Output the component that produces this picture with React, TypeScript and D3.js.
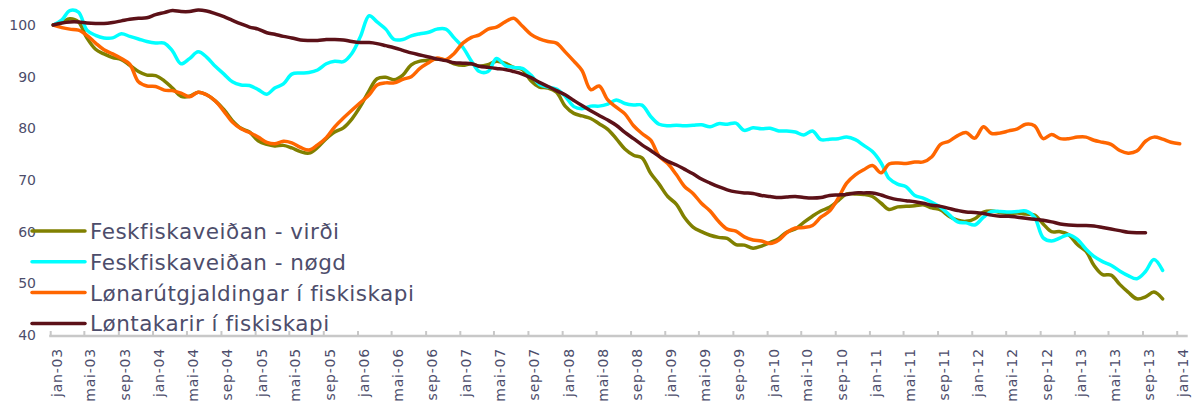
import * as d3 from "d3";

// monthly index series, jan-03 = 100
const virdi = [
  100, 100.5, 101.2, 100.6, 97.5, 95.3, 94.4, 93.7, 93.3, 92.2, 91, 90.3, 90.2, 89.2, 87.8, 86.2, 86.2, 87, 86.5, 85.3,
  83.6, 81.5, 80, 79.3, 77.6, 76.9, 76.6, 76.7, 76.2, 75.5, 75.2, 76.3, 78, 79.3, 80.1, 81.8, 84.3, 87.3, 89.6, 89.9,
  89.4, 90.3, 92.3, 93, 93.2, 93.4, 93.2, 92.5, 92.2, 92.5, 92, 92.3, 93, 92.6, 91.8, 91.4, 89.2, 88, 87.8, 87,
  84.3, 82.9, 82.4, 81.9, 80.9, 79.8, 78, 76, 74.8, 74.3, 71.3, 69.2, 66.8, 65.3, 62.8, 60.9, 60, 59.3, 58.9, 58.7,
  57.5, 57.4, 56.8, 57.2, 57.9, 58.7, 59.9, 60.5, 61.8, 63, 64, 64.7, 66, 67.3, 67.3, 67.2, 66.8, 65.5, 64.3, 64.8,
  64.9, 65, 65.2, 64.6, 64.2, 63, 62.2, 62, 62.5, 63.8, 64, 63.7, 63.5, 63.6, 63.4, 63.2, 61.5, 60, 60, 59.4,
  57.5, 56.2, 53.5, 51.7, 51.6, 49.8, 48.3, 47, 47.4, 48.3, 47,
];

const nogd = [
  100, 101, 102.8, 102.5, 99, 98, 97.5, 97.5, 98.3, 97.8, 97.3, 96.8, 96.5, 96.5, 95, 92.5, 93.5, 94.8, 93.8, 92,
  90.5, 89, 88.4, 88.3, 87.5, 86.6, 87.8, 88.6, 90.5, 90.7, 90.8, 91.3, 92.5, 93, 92.9, 94.5, 97.8, 101.8, 100.6, 99.2,
  97.2, 97.2, 97.9, 98.3, 98.6, 99.2, 99.2, 97.5, 95.7, 93, 91, 91, 93.5, 92.2, 91.8, 91.6, 90.3, 88.5, 88, 87.6,
  86.2, 84.2, 83.8, 84.3, 84.3, 84.7, 85.5, 84.8, 84.5, 84.5, 82.3, 80.8, 80.5, 80.6, 80.5, 80.6, 80.7, 80.3, 80.9, 80.8,
  81, 79.6, 80.1, 79.9, 80, 79.5, 79.5, 79.3, 78.7, 79.5, 77.8, 77.9, 78, 78.3, 77.8, 76.7, 75.5, 73.3, 70.3, 69.2,
  68.7, 67, 66.5, 65.7, 64.7, 63.3, 61.9, 61.7, 61.3, 62.8, 63.9, 63.9, 63.8, 63.9, 64, 62.8, 58.8, 58.2, 58.8, 59.4,
  58.5, 56.6, 55.2, 54.2, 53.5, 52.4, 51.5, 50.9, 52.3, 54.6, 52.5,
];

const lonarutgjaldingar = [
  100, 99.5, 99.2, 99, 98, 96.5, 95.2, 94.4, 93.5, 92.4, 89, 88.2, 88.1, 87.4, 87.3, 86.8, 86.1, 87, 86.5, 85.3,
  83.3, 81.2, 79.9, 79.2, 78.3, 77.3, 77, 77.5, 77.2, 76.3, 75.8, 76.8, 78.2, 80.3, 82, 83.5, 85, 86.5, 88.4, 88.8,
  88.8, 89.5, 90, 91.6, 92.7, 93.6, 93.3, 94.5, 96.5, 97.6, 98.1, 99.2, 99.6, 100.6, 101.3, 99.8, 98.2, 97.3, 96.8, 96.5,
  94.8, 93, 91.2, 87.5, 88.2, 85.5, 84.1, 82.8, 80.5, 79, 77.7, 74.6, 73.2, 71, 68.8, 67.4, 65.5, 64, 62, 60.5,
  60.1, 59, 58.4, 58.2, 57.7, 58.4, 59.8, 60.7, 60.8, 61.2, 62.8, 64, 66.5, 69.4, 71, 72, 72.8, 71.4, 73.1, 73.3,
  73.2, 73.5, 73.5, 74.5, 76.9, 77.5, 78.6, 79.2, 78.1, 80.3, 79, 79.1, 79.5, 79.9, 80.8, 80.5, 78, 78.8, 78, 78,
  78.3, 78.3, 77.7, 77.3, 76.9, 75.7, 75.2, 75.6, 77.5, 78.3, 77.9, 77.3, 77,
];

const lontakarir = [
  100, 100.4, 100.6, 100.6, 100.4, 100.3, 100.3, 100.5, 100.8, 101.1, 101.3, 101.4, 102, 102.4, 102.8, 102.6, 102.6, 102.9, 102.7, 102.2,
  101.6, 100.9, 100.2, 99.6, 99.2, 98.5, 98.2, 97.8, 97.5, 97.1, 97, 97, 97.2, 97.2, 97.1, 96.8, 96.6, 96.6, 96.4, 96,
  95.6, 95.1, 94.6, 94.2, 93.8, 93.4, 93.1, 92.7, 92.6, 92.5, 92, 91.8, 91.6, 91.4, 91, 90.5, 89.8, 88.9, 88.1, 87.3,
  86.5, 85.4, 84.4, 83.4, 82.5, 81.6, 80.6, 79.2, 78, 76.8, 75.7, 74.6, 73.6, 72.9, 72.1, 71.2, 70.2, 69.4, 68.7, 68.1,
  67.7, 67.5, 67.4, 67, 66.8, 66.6, 66.7, 66.8, 66.6, 66.5, 66.6, 67, 67.1, 67.2, 67.5, 67.5, 67.5, 67.1, 66.6, 66.2,
  66, 65.8, 65.5, 65.1, 64.9, 64.5, 64.1, 63.8, 63.7, 63.5, 63.2, 63, 63, 62.8, 62.6, 62.4, 62.2, 61.9, 61.5, 61.3,
  61.2, 61.2, 61.1, 60.8, 60.5, 60.2, 59.9, 59.8, 59.8,
];

const seriesNames = [
  "Feskfiskaveiðan - virði",
  "Feskfiskaveiðan - nøgd",
  "Lønarútgjaldingar í fiskiskapi",
  "Løntakarir í fiskiskapi",
];
const seriesColors = ["#808000", "#00FFFF", "#FF6600", "#5C1118"];
const seriesValues = [virdi, nogd, lonarutgjaldingar, lontakarir];

const monthNames = ["jan", "feb", "mar", "apr", "mai", "jun", "jul", "aug", "sep", "okt", "nov", "des"];
const yTicks = [40, 50, 60, 70, 80, 90, 100];

const W = 1199;
const H = 405;
const textColor = "#4d4d6b";
const font = "DejaVu Sans, Verdana, sans-serif";

export default function App() {
  const x = d3
    .scaleTime()
    .domain([new Date(2003, 0, 1), new Date(2014, 0, 1)])
    .range([50.7, 1177.2]);
  const y = d3.scaleLinear().domain([40, 100]).range([335, 25]);

  const xTicks = x.ticks(d3.timeMonth.every(4) as any);
  const fmt = (d: Date) => monthNames[d.getMonth()] + "-" + d3.timeFormat("%y")(d);

  // observations are plotted at the 10th of each month
  const line = d3
    .line<number>()
    .x((_, i) => x(new Date(2003, i, 10)))
    .y((d) => y(d))
    .curve(d3.curveCatmullRom.alpha(0.5));

  const [x0, x1] = x.range();
  const axisY = y(40) + 1;

  return (
    <svg
      width={W}
      height={H}
      style={{ position: "absolute", left: 0, top: 0, background: "#fff" }}
      fontFamily={font}
    >
      {/* y tick labels */}
      {yTicks.map((t) => (
        <text key={t} x={36} y={y(t)} dy="0.35em" textAnchor="end" fontSize={14} fill={textColor}>
          {t}
        </text>
      ))}

      {/* x axis */}
      <line x1={x0 - 1.5} x2={x1 + 10.5} y1={axisY} y2={axisY} stroke="#c8c8c8" strokeWidth={2.4} />
      {xTicks.map((d, i) => (
        <g key={i} transform={`translate(${x(d)},0)`}>
          <line y1={axisY - 5} y2={axisY} stroke="#c8c8c8" strokeWidth={2} />
          <text
            transform={`translate(11,348) rotate(-90)`}
            textAnchor="end"
            fontSize={14}
            letterSpacing={0.8}
            fill={textColor}
          >
            {fmt(d)}
          </text>
        </g>
      ))}

      {/* series */}
      {seriesValues.map((vals, k) => (
        <path
          key={k}
          d={line(vals) || ""}
          fill="none"
          stroke={seriesColors[k]}
          strokeWidth={3.5}
          strokeLinejoin="round"
          strokeLinecap="round"
        />
      ))}

      {/* legend */}
      {seriesNames.map((name, k) => {
        const cy = 231 + k * 30.8;
        return (
          <g key={name}>
            <line x1={32} x2={85} y1={cy} y2={cy} stroke={seriesColors[k]} strokeWidth={3.5} strokeLinecap="round" />
            <text x={90} y={cy + 8} fontSize={21.5} letterSpacing={0.5} fill={textColor}>
              {name}
            </text>
          </g>
        );
      })}
    </svg>
  );
}
